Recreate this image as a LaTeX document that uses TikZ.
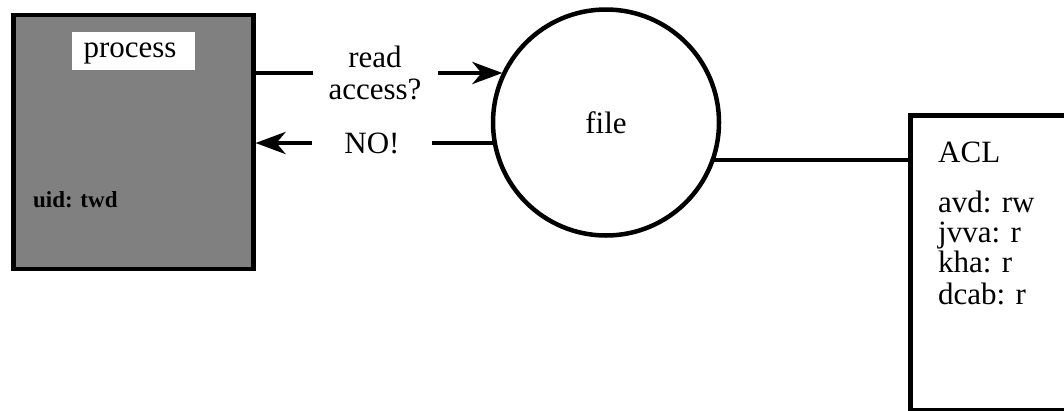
\documentclass[tikz,border=0pt]{standalone}
\usepackage{fontspec}
\setmainfont{Liberation Serif}
\usetikzlibrary{arrows.meta}
\tikzset{
  thick line/.style={line width=4.5pt},
  big/.style={font=\fontsize{31}{36}\selectfont},
  procbox/.style={draw, thick line, fill=black!50, rectangle, inner sep=0pt, anchor=north west},
  labelbox/.style={fill=white, rectangle, inner sep=0pt, big},
  filecirc/.style={draw, thick line, circle, inner sep=0pt, minimum size=226pt, big},
  aclbox/.style={draw, thick line, rectangle, inner sep=0pt, anchor=north west},
  conn/.style={thick line},
  arr/.style={thick line, -{Stealth[length=30pt,width=22pt,inset=9pt]}},
  txt/.style={inner sep=0pt, big},
}
\begin{document}
\begin{tikzpicture}[x=1pt,y=-1pt]
\clip (0,0) rectangle (1064,410);
\fill[white] (0,0) rectangle (1064,410);
% process box
\node[procbox, minimum width=240pt, minimum height=254pt] (proc) at (11,12.5) {};
\node[labelbox, minimum width=123pt, minimum height=38pt] (plabel) at (133.5,51) {};
\node[txt, anchor=base] (ptext) at (130,57) {process};
\node[inner sep=0pt, anchor=base west, font=\fontsize{23}{26}\selectfont\bfseries] (uid) at (33,207) {uid: twd};
% file circle
\node[filecirc] (file) at (606,122.5) {file};
% ACL box
\node[aclbox, minimum width=220pt, minimum height=295pt] (acl) at (908,113) {};
\node[txt, anchor=base west] (acltitle) at (938,162) {ACL};
\node[txt, anchor=base west] (e1) at (938,212) {avd: rw};
\node[txt, anchor=base west] (e2) at (938,242) {jvva: r};
\node[txt, anchor=base west] (e3) at (938,272) {kha: r};
\node[txt, anchor=base west] (e4) at (938,304) {dcab: r};
% texts
\node[txt, align=center, anchor=base] (read) at (375,67) {read};
\node[txt, align=center, anchor=base] (access) at (375,99) {access?};
\node[txt, anchor=base] (no) at (372,153) {NO!};
% top connector
\coordinate (r1) at (313,73);
\coordinate (r2) at (438,73);
\draw[conn] (proc.east |- r1) -- (r1);
\draw[arr] (r2) -- (r2 -| file.154);
% bottom connector
\coordinate (n1) at (432,143);
\coordinate (n2) at (312,143);
\draw[conn] (n1 -| file.191) -- (n1);
\draw[arr] (n2) -- (n2 -| proc.east);
% right connector
\coordinate (c1) at (800,160);
\draw[conn] (c1 -| file.-20) -- (c1 -| acl.west);
\end{tikzpicture}
\end{document}
